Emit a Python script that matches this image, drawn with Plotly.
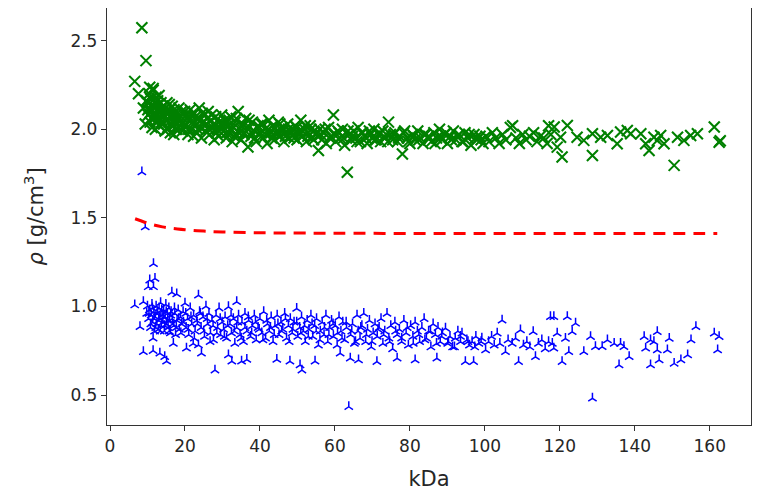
import plotly.graph_objects as go

# green x markers (upper band)
green_kda = [6.6, 8.5, 9.6, 7.6, 10.6, 11.5, 8.9, 9.4, 9.7,
             10.0, 10.2, 10.4, 10.5, 10.7, 10.9, 11.0, 11.2, 11.3, 11.5, 11.6, 11.8, 12.0, 12.1, 12.3, 12.4,
             12.6, 12.8, 12.9, 13.1, 13.2, 13.4, 13.6, 13.7, 13.9,
             14.1, 14.3, 14.5, 14.7, 14.8, 15.0, 15.2, 15.4, 15.5, 15.7, 15.9, 16.1, 16.2, 16.4, 16.6, 16.8,
             17.0, 17.2, 17.4, 17.6, 17.9, 18.1, 18.4, 18.7, 19.0, 19.3, 19.6, 19.9,
             20.2, 20.5, 20.8, 21.1, 21.4, 21.7, 22.0, 22.3, 22.6, 22.9, 23.2, 23.5, 23.8, 24.1, 24.4, 24.7,
             25.0, 25.4, 25.8, 26.2, 26.6, 27.0, 27.4, 27.8, 28.2, 28.6, 29.0, 29.4, 29.8,
             30.2, 30.6, 31.0, 31.4, 31.8, 32.2, 32.6, 33.0, 33.4, 33.8, 34.2, 34.6, 35.0, 35.4, 35.8, 36.2,
             36.8, 37.2, 37.6, 38.0, 38.5, 39.0, 39.5, 39.9,
             40.4, 40.9, 41.4, 41.9, 42.4, 42.9, 43.4, 43.9, 44.4, 44.9, 45.4, 45.9, 46.4, 46.9, 47.4, 47.9,
             48.4, 48.9, 49.4, 49.9, 50.4, 50.9, 51.4, 51.9, 52.4, 52.9, 53.4, 53.9, 54.4, 54.9,
             55.6, 55.9, 56.5, 57.1, 57.7, 58.3, 58.9, 59.6, 60.2, 60.8, 61.4, 62.0, 62.6, 63.3, 63.8, 64.4,
             65.0, 65.6, 66.2, 66.8, 67.4, 68.0, 68.6, 69.2, 69.8, 70.4, 71.0, 71.6, 72.2, 72.8, 73.4, 74.3, 74.8,
             75.4, 76.0, 76.7, 77.3, 78.0, 78.6, 79.3, 80.0, 80.7, 81.4, 82.1, 82.8, 83.5, 84.2, 85.0, 85.7,
             86.4, 87.1, 87.9, 88.6, 89.3, 90.0, 90.8, 91.6, 92.3, 93.1, 93.9, 94.7, 95.5, 96.3, 97.1, 97.9,
             98.7, 99.5,
             100.3, 101.1, 102.0, 102.9, 103.8, 104.7, 105.6, 106.8, 107.4, 108.3, 109.2, 110.1, 111.0, 111.9,
             113.0, 113.9, 114.8, 115.7, 116.6, 117.0, 117.6,
             118.5, 122.0, 120.2, 119.3, 120.6, 124.6, 126.4, 128.7, 128.7, 130.9, 132.7, 135.3, 136.2, 138.0,
             138.9, 141.6, 142.9, 143.8, 145.1, 146.0, 146.9, 147.8, 150.5, 151.4, 153.1, 154.9, 156.7,
             161.2, 162.5, 162.8]
green_rho = [2.27, 2.573, 2.387, 2.20, 2.237, 2.23, 2.12, 2.03, 2.16,
             2.15, 2.08, 2.20, 2.12, 2.04, 2.17, 2.10, 2.01, 2.13, 2.22, 2.06, 2.15, 2.09, 2.00, 2.18, 2.11,
             2.05, 2.14, 2.07, 2.19, 2.02, 2.10, 2.15, 2.04, 2.09,
             2.13, 2.03, 2.08, 1.99, 2.12, 2.05, 2.15, 2.01, 2.09, 2.04, 2.11, 1.98, 2.07, 2.02, 2.13, 2.05,
             1.97, 2.09, 2.03, 2.10, 2.00, 2.06, 2.12, 2.02, 2.07, 1.99, 2.04, 2.10,
             2.02, 2.08, 1.97, 2.05, 2.11, 2.00, 2.04, 1.96, 2.09, 2.02, 1.98, 2.06, 2.12, 2.01, 1.95, 2.04,
             2.08, 1.99, 2.03, 2.10, 1.97, 2.05, 2.01, 1.94, 2.07, 2.00, 1.96, 2.03, 2.08,
             1.99, 2.05, 1.95, 2.02, 1.98, 2.07, 1.93, 2.01, 2.04, 1.96, 2.10, 2.00, 1.94, 2.03, 1.98, 2.06,
             1.90, 2.01, 1.96, 2.04, 1.99, 1.93, 2.02, 1.97,
             2.03, 1.95, 2.00, 1.92, 2.05, 1.98, 2.02, 1.94, 1.99, 2.04, 1.96, 2.01, 1.93, 1.98, 2.03, 1.95,
             2.00, 1.97, 2.02, 1.94, 1.99, 2.05, 1.96, 2.00, 1.93, 1.98, 2.02, 1.95, 1.99, 1.97,
             1.88, 2.00, 1.94, 1.98, 1.92, 2.01, 1.96, 2.08, 1.93, 1.99, 1.95, 2.00, 1.91, 1.757, 1.97, 1.94,
             1.99, 1.95, 2.01, 1.93, 1.98, 1.96, 1.92, 1.99, 1.95, 2.00, 1.94, 1.97, 1.93, 1.99, 1.95, 2.04, 1.97,
             1.94, 1.98, 1.93, 1.96, 1.86, 1.99, 1.95, 1.92, 1.97, 1.94, 1.99, 1.95, 1.92, 1.97, 1.96, 1.93,
             1.98, 1.95, 2.00, 1.94, 1.97, 1.92, 1.96, 1.99, 1.94, 1.97, 1.93, 1.98, 1.95, 1.91, 1.97, 1.94,
             1.96, 1.92,
             1.96, 1.93, 1.98, 1.95, 1.92, 1.97, 1.94, 2.01, 2.02, 1.95, 1.92, 1.97, 1.94, 1.96,
             1.98, 1.93, 1.96, 1.95, 1.92, 2.02, 1.97,
             2.012, 2.021, 1.955, 1.899, 1.843, 1.955, 1.937, 1.974, 1.852, 1.955, 1.965, 1.918, 1.984, 1.993,
             1.974, 1.974, 1.918, 1.880, 1.955, 1.937, 1.965, 1.918, 1.796, 1.955, 1.937, 1.965, 1.974,
             2.012, 1.927, 1.935]

# more green points inside the dense part of the band
green_dense_kda = [10.1, 10.6, 11.1, 11.7, 12.2, 12.7, 13.3, 13.8, 14.4, 14.9, 15.3, 15.8, 16.3, 16.7, 17.1,
                   17.5, 18.0, 18.5, 19.1, 19.7, 20.4, 21.0, 21.6, 22.2, 22.8, 23.4, 24.0, 24.6, 25.2, 25.9,
                   26.5, 27.1, 27.7, 28.4, 29.1, 29.7, 30.4, 31.1, 31.8, 32.4, 33.1, 33.7, 34.4, 35.1, 35.7,
                   36.4, 37.1, 37.8, 38.6, 39.3, 40.1, 40.8, 41.6, 42.3, 43.1, 43.8, 44.6, 45.3, 46.1, 46.8,
                   47.6, 48.3, 49.1, 49.8, 50.6, 51.3, 52.1, 52.8, 53.6, 54.3, 55.1, 56.2, 57.4, 58.6, 59.8,
                   61.1, 62.3, 63.5, 64.7, 65.9, 67.1, 68.3, 69.5, 70.7, 71.9, 73.1, 74.1, 75.7, 77.0, 78.3,
                   79.6, 81.0, 82.4, 83.8, 85.3, 86.7, 88.2, 89.6, 91.1, 92.7, 94.2, 95.8, 97.5, 99.0]
green_dense_rho = [2.11, 2.18, 2.06, 2.13, 2.07, 2.16, 2.06, 2.12, 2.07, 2.10, 2.00, 2.14, 2.03, 2.08, 2.11,
                   2.00, 2.09, 2.04, 2.10, 2.02, 2.06, 2.00, 2.08, 2.03, 2.07, 2.00, 2.05, 2.09, 2.02, 2.06,
                   2.00, 2.08, 2.03, 1.98, 2.04, 2.00, 2.03, 1.98, 2.05, 2.00, 1.96, 2.06, 1.98, 2.02, 1.97,
                   2.01, 2.05, 1.98, 1.95, 2.01, 1.98, 2.03, 1.97, 2.00, 1.95, 2.01, 1.97, 2.03, 1.99, 1.96,
                   2.00, 1.98, 1.95, 2.01, 1.97, 1.99, 2.02, 1.96, 2.00, 1.94, 1.98, 1.97, 2.00, 1.95, 1.97,
                   1.98, 1.95, 1.99, 1.96, 1.93, 1.98, 1.95, 1.97, 1.94, 1.98, 1.96, 1.93, 1.97, 1.95, 1.98,
                   1.93, 1.96, 1.94, 1.97, 1.95, 1.92, 1.96, 1.98, 1.94, 1.96, 1.93, 1.97, 1.95, 1.94]

# blue tri markers (lower band)
blue_kda = [6.6, 8.9, 8.0, 8.9, 8.5, 9.4, 10.2, 10.6, 11.6, 12.0, 11.6, 11.5, 11.5, 13.3, 14.6, 15.1, 9.8, 10.0,
            10.3, 10.5, 10.8, 11.0, 11.2, 11.4, 11.7, 11.9, 12.1, 12.3, 12.5, 12.7, 12.9, 13.1, 13.3, 13.5,
            13.7, 13.9, 14.1, 14.3, 14.5, 14.7, 14.9, 15.1, 15.3, 15.5, 15.7, 15.9, 16.1, 16.3, 16.5, 16.6,
            16.9, 17.0, 17.3, 17.5, 17.8, 17.9, 18.2, 18.5, 18.8, 19.1,
            19.5, 20.0, 20.4, 20.3, 20.7, 21.0, 21.4, 21.8, 22.2, 22.3, 22.7, 23.1, 23.6, 23.6, 23.9, 24.4,
            24.3, 24.8, 25.2, 25.6, 26.0, 26.4, 26.8, 27.2, 27.6, 28.0, 28.3, 28.7, 29.1, 29.5, 29.9,
            30.3, 30.7, 31.1, 31.6, 31.6, 32.0, 32.5, 32.4, 32.9, 33.3, 33.8, 33.8, 34.3, 34.7, 35.1, 35.2,
            35.6, 36.0, 36.5, 36.5, 37.0, 37.5, 38.0, 38.5, 39.0, 39.5, 40.0, 40.5, 41.0, 41.5, 42.0, 42.5,
            43.0, 43.5, 44.0, 44.5, 44.6, 45.1, 45.6, 46.1, 46.6, 47.1, 47.6, 48.0, 48.1, 48.6, 49.1, 49.8,
            50.1, 50.7, 50.6, 51.2, 51.1, 51.6, 52.1, 52.6, 53.1, 53.6, 54.1, 54.7, 54.6, 55.1, 55.6, 56.1,
            56.6, 57.1, 57.6, 58.1, 58.6,
            59.1, 59.6, 60.1, 60.6, 61.1, 61.4, 61.6, 62.1, 62.6, 63.1, 63.7, 64.1, 64.2, 64.7, 65.2, 65.9,
            66.3, 66.2, 66.7, 67.2, 67.7, 68.2, 68.7, 69.2, 69.7, 70.2, 70.7, 71.2, 71.3, 71.8, 72.3, 72.8,
            73.3, 73.9, 74.4, 74.9, 75.4, 76.0, 76.6, 76.6, 77.2, 77.8, 78.4, 79.0, 79.6, 80.2, 80.8, 81.4,
            81.4, 82.0, 82.6, 83.2, 83.8, 84.4, 85.0, 85.6, 86.2, 86.8, 87.2, 87.5, 88.1, 88.7, 89.5, 90.1,
            90.7, 91.4, 92.1, 92.8, 93.5, 93.9, 94.8, 95.2, 95.9, 96.6, 97.0, 97.6, 98.4, 99.2, 100.2,
            101.0, 101.8, 102.5, 103.3, 104.0, 104.6, 105.5, 106.2, 107.3, 108.2, 109.0, 109.5, 110.3, 111.2,
            112.0, 112.9, 113.5, 114.3, 115.2, 116.1, 117.0, 117.5, 118.0,
            118.4, 122.0, 124.2, 123.3, 119.3, 121.5, 118.4, 120.6, 122.4, 126.4, 128.2, 128.7, 129.5, 131.3,
            132.7, 134.5, 136.2, 137.1, 138.5, 135.8, 142.5, 142.9, 144.2, 145.1, 146.0, 146.5, 146.0, 148.7,
            149.2, 150.5, 152.3, 154.1, 155.0, 156.3, 161.2, 162.5, 162.1, 144.2]
blue_rho = [1.007, 1.026, 0.885, 0.744, 1.758, 1.448, 1.11, 1.148, 1.11, 1.157, 1.24, 0.82, 0.75, 0.735, 0.716, 0.69, 0.96, 1.00,
            0.93, 0.98, 0.88, 0.95, 1.01, 0.91, 0.97, 0.86, 0.94, 1.00, 0.90, 0.96, 0.87, 0.99, 0.93, 1.02,
            0.89, 0.95, 0.91, 0.98, 0.86, 0.94, 1.01, 0.90, 0.96, 0.88, 0.99, 0.92, 0.85, 0.97, 1.08, 0.93,
            0.79, 0.89, 0.96, 0.84, 1.07, 0.92, 0.98, 0.87, 0.94, 0.90,
            0.97, 1.017, 0.763, 0.88, 0.93, 0.84, 0.99, 0.90, 0.79, 0.95, 0.86, 0.92, 1.063, 0.782, 0.97, 0.735,
            0.88, 0.94, 0.83, 1.00, 0.90, 0.96, 0.85, 0.92, 0.81, 0.64, 0.95, 0.88, 0.99, 0.84, 0.91,
            0.87, 0.94, 0.82, 0.997, 0.725, 0.90, 0.69, 0.85, 0.93, 0.79, 1.026, 0.88, 0.95, 0.84, 0.69, 0.91,
            0.80, 0.96, 0.70, 0.86, 0.92, 0.83, 0.89, 0.95, 0.81, 0.88, 0.93, 0.85, 0.97, 0.82, 0.90, 0.86,
            0.94, 0.80, 0.89, 0.70, 0.95, 0.84, 0.91, 0.87, 0.96, 0.82, 0.89, 0.69, 0.93, 0.85, 0.91, 0.988,
            0.83, 0.669, 0.88, 0.64, 0.94, 0.86, 0.80, 0.92, 0.87, 0.95, 0.83, 0.69, 0.89, 0.93, 0.78, 0.86,
            0.91, 0.84, 0.95, 0.80, 0.88,
            0.92, 0.83, 0.89, 0.78, 0.94, 0.735, 0.86, 0.91, 0.81, 0.88, 0.434, 0.707, 0.84, 0.90, 0.79, 0.95,
            0.697, 0.86, 0.82, 0.89, 0.96, 0.80, 0.87, 0.92, 0.77, 0.85, 0.90, 0.688, 0.83, 0.88, 0.93, 0.79,
            0.86, 0.96, 0.82, 0.89, 0.76, 0.91, 0.707, 0.84, 0.87, 0.80, 0.92, 0.85, 0.78, 0.89, 0.83, 0.697,
            0.91, 0.86, 0.80, 0.88, 0.93, 0.82, 0.86, 0.77, 0.90, 0.84, 0.707, 0.88, 0.80, 0.85, 0.876, 0.79,
            0.83, 0.77, 0.82, 0.86, 0.80, 0.848, 0.688, 0.81, 0.78, 0.80, 0.688, 0.83, 0.79, 0.82, 0.754,
            0.80, 0.83, 0.78, 0.848, 0.79, 0.922, 0.744, 0.81, 0.79, 0.82, 0.688, 0.866, 0.78, 0.80,
            0.77, 0.857, 0.716, 0.79, 0.81, 0.76, 0.80, 0.941, 0.79,
            0.763, 0.941, 0.904, 0.857, 0.848, 0.819, 0.941, 0.688, 0.744, 0.744, 0.829, 0.481, 0.772, 0.772,
            0.81, 0.79, 0.79, 0.772, 0.716, 0.669, 0.829, 0.763, 0.669, 0.80, 0.857, 0.697, 0.754, 0.754,
            0.819, 0.678, 0.697, 0.725, 0.81, 0.885, 0.848, 0.829, 0.754, 0.81]

# more blue points inside the dense part of the band
blue_dense_kda = [10.4, 10.9, 11.3, 11.8, 12.2, 12.6, 13.0, 13.4, 13.8, 14.2, 14.6, 15.0, 15.4, 15.8, 16.2,
                  16.7, 17.2, 17.7, 18.3, 18.9, 19.6, 20.2, 20.9, 21.6, 22.5, 23.3, 24.1, 25.0, 25.9, 26.7,
                  27.5, 28.5, 29.4, 30.5, 31.4, 32.3, 33.2, 34.1, 35.0, 36.0, 36.9, 37.8, 38.8, 39.8, 40.8,
                  41.8, 42.8, 43.8, 44.8, 45.8, 46.8, 47.8, 48.8, 49.8, 50.9, 51.9, 52.9, 53.9, 55.0, 56.0,
                  57.2, 58.4, 59.5, 60.7, 61.9, 63.0, 64.5, 65.5, 66.9, 68.4, 69.9, 71.5, 73.0, 74.6, 76.2,
                  77.8, 79.3, 80.9, 82.4, 84.0, 85.5, 87.1, 88.5, 90.3, 91.9, 93.5, 95.5, 97.3, 99.0]
blue_dense_rho = [0.96, 0.90, 0.99, 0.93, 0.88, 0.97, 0.92, 0.86, 0.98, 0.94, 0.89, 0.97, 0.92, 0.86, 0.95,
                  0.90, 0.99, 0.88, 0.93, 0.85, 0.91, 0.96, 0.87, 0.94, 0.82, 0.90, 0.96, 0.86, 0.93, 0.80,
                  0.89, 0.85, 0.93, 0.83, 0.89, 0.95, 0.86, 0.91, 0.82, 0.88, 0.94, 0.85, 0.91, 0.87, 0.81,
                  0.92, 0.88, 0.84, 0.90, 0.86, 0.93, 0.80, 0.87, 0.91, 0.85, 0.89, 0.83, 0.90, 0.86, 0.81,
                  0.88, 0.84, 0.90, 0.85, 0.82, 0.91, 0.86, 0.80, 0.88, 0.84, 0.80, 0.87, 0.84, 0.80, 0.86,
                  0.82, 0.88, 0.79, 0.84, 0.81, 0.86, 0.79, 0.83, 0.80, 0.77, 0.83, 0.80, 0.77, 0.80]

# red dashed reference curve
curve_kda = [6.7, 8, 10, 12, 14, 16, 18, 20, 25, 30, 40, 50, 60, 80, 100, 120, 140, 162]
curve_rho = [1.495, 1.485, 1.47, 1.458, 1.449, 1.442, 1.437, 1.433, 1.425, 1.42, 1.416, 1.414, 1.413,
             1.412, 1.412, 1.411, 1.411, 1.411]

fig = go.Figure()

fig.add_trace(go.Scatter(
    x=green_kda + green_dense_kda, y=green_rho + green_dense_rho, mode="markers",
    marker=dict(symbol="x-thin", size=11, color="#008000",
                line=dict(color="#008000", width=2.1)),
    showlegend=False))

fig.add_trace(go.Scatter(
    x=blue_kda + blue_dense_kda, y=blue_rho + blue_dense_rho, mode="markers",
    marker=dict(symbol="y-up", size=7, color="#0000ff",
                line=dict(color="#0000ff", width=1.5)),
    showlegend=False))

fig.add_trace(go.Scatter(
    x=curve_kda, y=curve_rho, mode="lines", line_shape="spline",
    line=dict(color="#ff0000", width=3, dash="12px,8px"),
    showlegend=False))

axis_style = dict(showline=True, mirror=True, linecolor="#333333", linewidth=1.3,
                  ticks="outside", ticklen=5, tickcolor="#333333",
                  showgrid=False, zeroline=False, automargin=False,
                  tickfont=dict(family="DejaVu Sans", size=17, color="#262626"))

fig.update_xaxes(range=[-0.8, 171], tickvals=[0, 20, 40, 60, 80, 100, 120, 140, 160],
                 title=dict(text="kDa", font=dict(family="DejaVu Sans", size=21, color="#262626"), standoff=16),
                 **axis_style)
fig.update_yaxes(range=[0.331, 2.684], tickvals=[0.5, 1.0, 1.5, 2.0, 2.5], tickformat=".1f",
                 title=dict(text="<i>ρ</i> [g/cm<sup>3</sup>]",
                            font=dict(family="DejaVu Sans", size=21, color="#262626"), standoff=21),
                 **axis_style)

# the page body adds an 8px margin, so the figure is 8px smaller on each side
fig.update_layout(width=752, height=488, margin=dict(l=99, r=9, t=0, b=71),
                  paper_bgcolor="white", plot_bgcolor="white")

fig.write_html("out.html")
